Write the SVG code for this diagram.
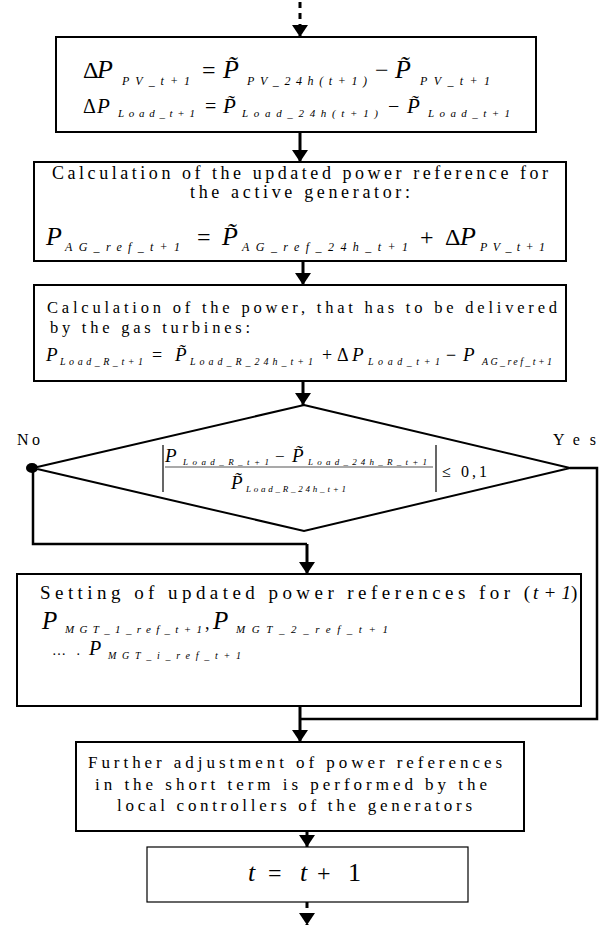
<svg xmlns="http://www.w3.org/2000/svg" width="601" height="926" viewBox="0 0 601 926">
<defs>
<marker id="ah" viewBox="0 0 12 16" refX="12" refY="8" markerWidth="12" markerHeight="16" markerUnits="userSpaceOnUse" orient="auto">
<path d="M0,0 L12,8 L0,16 z" fill="#000"/>
</marker>
</defs>
<style>
text { font-family: "Liberation Serif", "Times New Roman", serif; fill: #000; }
.i { font-style: italic; }
.box { fill: #fff; stroke: #000; stroke-width: 2; }
.thin { fill: #fff; stroke: #000; stroke-width: 1.2; }
.c { fill: none; stroke: #000; stroke-width: 2.5; }
.arr { fill: none; stroke: #000; stroke-width: 3; marker-end: url(#ah); }
.dash { fill: none; stroke: #000; stroke-width: 3; stroke-dasharray: 6 5; marker-end: url(#ah); }
</style>
<rect width="601" height="926" fill="#fff"/>

<g id="connectors">
<line class="dash" x1="300" y1="2" x2="300" y2="37"/>
<line class="arr" x1="300" y1="132" x2="300" y2="162"/>
<line class="arr" x1="303" y1="261" x2="303" y2="285"/>
<line class="arr" x1="303" y1="381" x2="303" y2="405"/>
<polyline class="c" points="33,468 33,544 307,544"/>
<line class="arr" x1="307" y1="544" x2="307" y2="574"/>
<polyline class="c" points="570,468 597,468 597,719 300,719"/>
<line class="arr" x1="300" y1="706" x2="300" y2="742"/>
<line class="arr" x1="307" y1="831" x2="307" y2="847"/>
<line class="dash" x1="307" y1="902" x2="307" y2="925"/>
<ellipse cx="32" cy="468" rx="6" ry="5" fill="#000"/>
</g>

<g id="box1">
<rect class="box" x="56" y="37" width="480" height="95"/>
<text x="83" y="78" font-size="24">Δ</text>
<text class="i" x="97" y="78" font-size="26">P</text>
<text class="i" x="122" y="85" font-size="12" textLength="68" lengthAdjust="spacing">PV_t+1</text>
<text x="202" y="78" font-size="24">=</text>
<text class="i" x="223" y="78" font-size="26">P̃</text>
<text class="i" x="247" y="85" font-size="12" textLength="120" lengthAdjust="spacing">PV_24h(t+1)</text>
<text x="375" y="78" font-size="24">−</text>
<text class="i" x="395" y="78" font-size="26">P̃</text>
<text class="i" x="420" y="85" font-size="12" textLength="70" lengthAdjust="spacing">PV_t+1</text>
<text x="83" y="113" font-size="20">Δ</text>
<text class="i" x="97" y="113" font-size="21">P</text>
<text class="i" x="118" y="117" font-size="11" textLength="77" lengthAdjust="spacing">Load_t+1</text>
<text x="205" y="113" font-size="20">=</text>
<text class="i" x="223" y="113" font-size="21">P̃</text>
<text class="i" x="242" y="117" font-size="11" textLength="136" lengthAdjust="spacing">Load_24h(t+1)</text>
<text x="388" y="113" font-size="20">−</text>
<text class="i" x="407" y="113" font-size="21">P̃</text>
<text class="i" x="428" y="117" font-size="11" textLength="82" lengthAdjust="spacing">Load_t+1</text>
</g>

<g id="box2">
<rect class="box" x="34" y="162" width="532" height="99"/>
<text x="52" y="179" font-size="18" textLength="496" lengthAdjust="spacing">Calculation of the updated power reference for</text>
<text x="190" y="198" font-size="18" textLength="220" lengthAdjust="spacing">the active generator:</text>
<text class="i" x="46" y="245" font-size="26">P</text>
<text class="i" x="65" y="251" font-size="12" textLength="115" lengthAdjust="spacing">AG_ref_t+1</text>
<text x="197" y="245" font-size="24">=</text>
<text class="i" x="222" y="245" font-size="26">P̃</text>
<text class="i" x="242" y="251" font-size="12" textLength="166" lengthAdjust="spacing">AG_ref_24h_t+1</text>
<text x="420" y="245" font-size="24">+</text>
<text x="445" y="245" font-size="24">Δ</text>
<text class="i" x="460" y="245" font-size="26">P</text>
<text class="i" x="480" y="251" font-size="12" textLength="65" lengthAdjust="spacing">PV_t+1</text>
</g>

<g id="box3">
<rect class="box" x="34" y="285" width="532" height="96"/>
<text x="47" y="313" font-size="16.5" textLength="510" lengthAdjust="spacing">Calculation of the power, that has to be delivered</text>
<text x="50" y="333" font-size="16.5" textLength="200" lengthAdjust="spacing">by the gas turbines:</text>
<text class="i" x="46" y="361" font-size="19">P</text>
<text class="i" x="60" y="365" font-size="10" textLength="83" lengthAdjust="spacing">Load_R_t+1</text>
<text x="152" y="361" font-size="18">=</text>
<text class="i" x="175" y="361" font-size="19">P̃</text>
<text class="i" x="190" y="365" font-size="10" textLength="123" lengthAdjust="spacing">Load_R_24h_t+1</text>
<text x="322" y="361" font-size="18">+</text>
<text x="337" y="361" font-size="18">Δ</text>
<text class="i" x="352" y="361" font-size="19">P</text>
<text class="i" x="368" y="365" font-size="10" textLength="72" lengthAdjust="spacing">Load_t+1</text>
<text x="446" y="361" font-size="18">−</text>
<text class="i" x="463" y="361" font-size="19">P</text>
<text class="i" x="482" y="365" font-size="10" textLength="70" lengthAdjust="spacing">AG_ref_t+1</text>
</g>

<g id="decision">
<polygon points="304,405 570,468 304,531 33,468" fill="#fff" stroke="#000" stroke-width="2"/>
<line x1="163" y1="445" x2="163" y2="492" stroke="#000" stroke-width="1.2"/>
<line x1="436" y1="445" x2="436" y2="492" stroke="#000" stroke-width="1.2"/>
<line x1="165" y1="467" x2="433" y2="467" stroke="#555" stroke-width="1.2"/>
<text class="i" x="165" y="462" font-size="19">P</text>
<text class="i" x="183" y="465" font-size="9" textLength="86" lengthAdjust="spacing">Load_R_t+1</text>
<text x="275" y="462" font-size="17">−</text>
<text class="i" x="292" y="462" font-size="19">P̃</text>
<text class="i" x="308" y="465" font-size="9" textLength="119" lengthAdjust="spacing">Load_24h_R_t+1</text>
<text class="i" x="231" y="489" font-size="19">P̃</text>
<text class="i" x="246" y="492" font-size="9" textLength="100" lengthAdjust="spacing">Load_R_24h_t+1</text>
<text x="442" y="477" font-size="16" textLength="45" lengthAdjust="spacing">≤ 0,1</text>
<text x="17" y="445" font-size="16" textLength="23" lengthAdjust="spacing">No</text>
<text x="553" y="445" font-size="16" textLength="43" lengthAdjust="spacing">Yes</text>
</g>

<g id="box4">
<rect class="box" x="17" y="574" width="564" height="132"/>
<text x="40" y="599" font-size="19" textLength="490" lengthAdjust="spacing">Setting of updated power references for (</text>
<text class="i" x="533" y="599" font-size="19" textLength="38" lengthAdjust="spacing">t+1</text>
<text x="571" y="599" font-size="19">)</text>
<text class="i" x="42" y="629" font-size="25">P</text>
<text class="i" x="65" y="633" font-size="11" textLength="137" lengthAdjust="spacing">MGT_1_ref_t+1</text>
<text x="205" y="629" font-size="18">,</text>
<text class="i" x="213" y="629" font-size="25">P</text>
<text class="i" x="236" y="633" font-size="11" textLength="152" lengthAdjust="spacing">MGT_2_ref_t+1</text>
<text x="52" y="655" font-size="14" textLength="28" lengthAdjust="spacing">… .</text>
<text class="i" x="89" y="655" font-size="20">P</text>
<text class="i" x="108" y="659" font-size="10" textLength="133" lengthAdjust="spacing">MGT_i_ref_t+1</text>
</g>

<g id="box5">
<rect class="box" x="76" y="742" width="448" height="89"/>
<text x="88" y="768" font-size="17" textLength="414" lengthAdjust="spacing">Further adjustment of power references</text>
<text x="95" y="790" font-size="17" textLength="392" lengthAdjust="spacing">in the short term is performed by the</text>
<text x="117" y="811" font-size="17" textLength="355" lengthAdjust="spacing">local controllers of the generators</text>
</g>

<g id="box6">
<rect class="thin" x="147" y="847" width="321" height="55"/>
<text class="i" x="248" y="881" font-size="26">t</text>
<text x="268" y="881" font-size="24">=</text>
<text class="i" x="300" y="881" font-size="26">t</text>
<text x="317" y="881" font-size="24">+</text>
<text x="348" y="881" font-size="26">1</text>
</g>
</svg>
